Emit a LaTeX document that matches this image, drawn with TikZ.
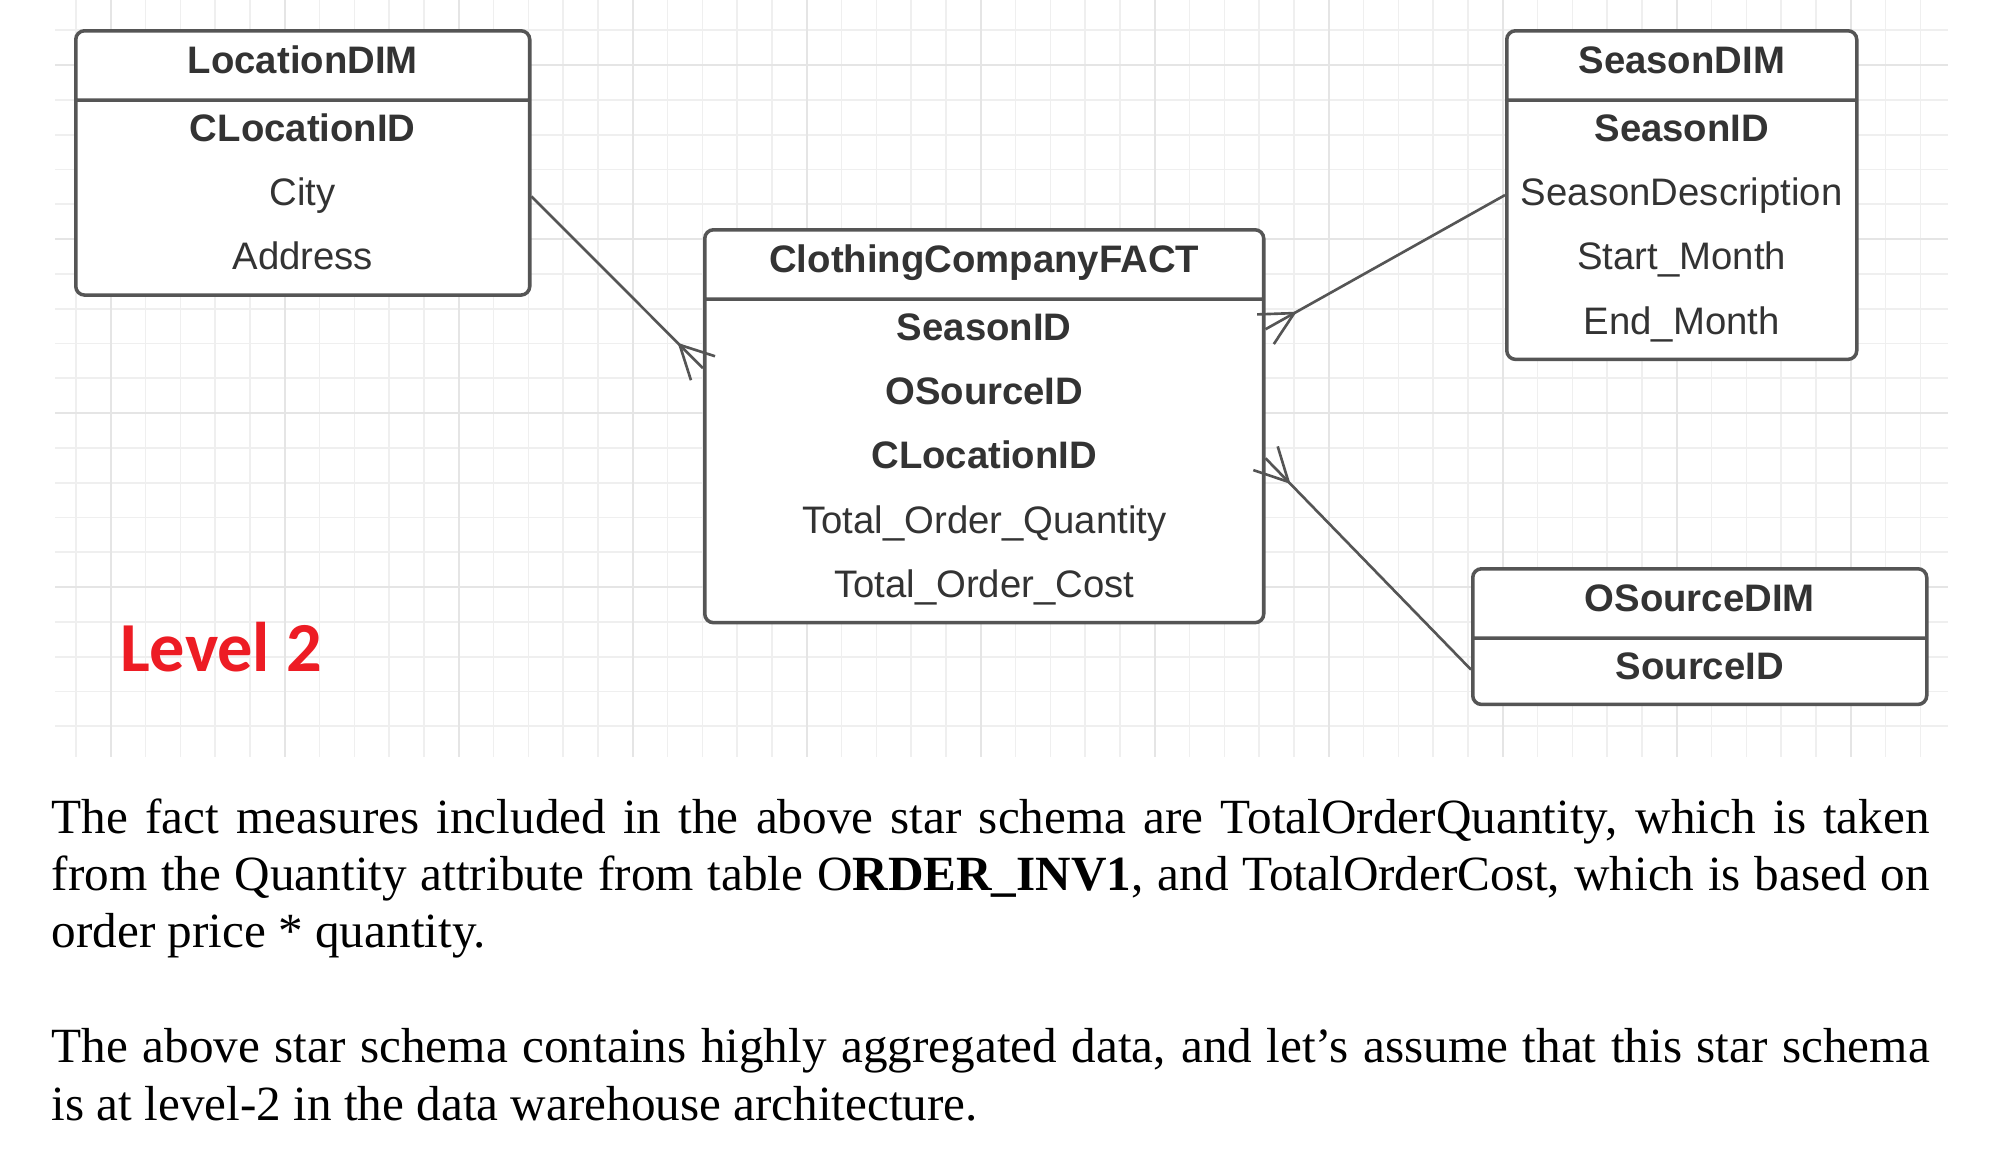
\documentclass[tikz,border=0pt]{standalone}
\usepackage{fontspec}
\setmainfont{Liberation Serif}
\newfontfamily\boxfont{Liberation Sans}
\newfontfamily\levelfont{Carlito}
\usepackage{xcolor}
\usepackage{tikz}
\usetikzlibrary{shapes.multipart, positioning, calc, backgrounds}

\definecolor{boxline}{HTML}{555555}
\definecolor{boxtext}{HTML}{333333}
\definecolor{gridgray}{HTML}{EFEFEF}
\definecolor{gridmajor}{HTML}{E5E5E5}
\definecolor{levelred}{HTML}{ED1C24}

\hyphenpenalty=10000
\newcommand{\hs}{\rule[-6.6pt]{0pt}{17.8pt}}
\newcommand{\rs}{\rule[-6.2pt]{0pt}{17.0pt}}
%% crow's foot at the entity end #1, line coming from #2
\newcommand{\crowfoot}[2]{%
  \draw[rel] ($(#1)!1.7mm!90:(#2)$) -- ($(#1)!3.3mm!(#2)$) -- ($(#1)!1.7mm!-90:(#2)$);}

\begin{document}
\begin{tikzpicture}[
    x=0.1mm, y=-0.1mm,
    every node/.style={font=\boxfont\fontsize{10.9}{18.3}\selectfont, text=boxtext},
    entity/.style={rectangle split, rectangle split parts=2, draw=boxline,
                   line width=1pt, fill=white, rounded corners=2.5pt, align=center,
                   inner xsep=2pt, inner ysep=0.45pt, anchor=north west},
    rel/.style={draw=boxline, line width=0.75pt},
    gridline/.style={draw=gridgray, line width=0.5pt},
    gridbold/.style={draw=gridmajor, line width=0.5pt},
    para/.style={font=\rmfamily\fontsize{14}{16.3}\selectfont, text=black,
                 text width=187.8mm, align=justify, inner sep=0pt, anchor=north west},
]
\useasboundingbox (0,0) rectangle (2000,1161);

%% --- Grid background ---
\begin{scope}[on background layer]
  \fill[white] (0,0) rectangle (2000,1161);
  \begin{scope}
    \clip (55,0) rectangle (1948,757);
    \foreach \k in {0,...,54}
      \draw[gridline] ({41.2+34.8*\k},0) -- ({41.2+34.8*\k},757);
    \foreach \k in {0,...,20}
      \draw[gridline] (55,{30.3+34.8*\k}) -- (1948,{30.3+34.8*\k});
    \foreach \k in {2,7,...,52}
      \draw[gridbold] ({41.2+34.8*\k},0) -- ({41.2+34.8*\k},757);
    \foreach \k in {1,6,...,16}
      \draw[gridbold] (55,{30.3+34.8*\k}) -- (1948,{30.3+34.8*\k});
  \end{scope}
\end{scope}

%% --- Tables ---
\node[entity, minimum width=45.4mm] (loc) at (74,29)
  {\hs\textbf{LocationDIM}\nodepart{two}\rs\textbf{CLocationID}\\\rs City\\\rs Address};

\node[entity, minimum width=55.9mm] (fact) at (703,228)
  {\hs\textbf{ClothingCompanyFACT}\nodepart{two}\rs\textbf{SeasonID}\\\rs\textbf{OSourceID}\\
   \rs\textbf{CLocationID}\\\rs Total\_Order\_Quantity\\\rs Total\_Order\_Cost};

\node[entity, minimum width=35mm] (season) at (1505,29)
  {\hs\textbf{SeasonDIM}\nodepart{two}\rs\textbf{SeasonID}\\\rs SeasonDescription\\
   \rs Start\_Month\\\rs End\_Month};

\node[entity, minimum width=45.4mm] (osrc) at (1471,567)
  {\hs\textbf{OSourceDIM}\nodepart{two}\rs\textbf{SourceID}};

%% --- Level label ---
\node[font=\levelfont\bfseries\fontsize{20}{24}\selectfont, text=levelred] (lvl) at (221,647) {Level 2};

%% --- Relationships (many side at the fact table) ---
\coordinate (locR)   at ([yshift=-3.35mm]loc.east);
\coordinate (factL)  at ([yshift=5.8mm]fact.west);
\coordinate (factRa) at ([yshift=9.7mm]fact.east);
\coordinate (factRb) at ([yshift=-3.2mm]fact.east);
\coordinate (seasL)  at (season.west);
\coordinate (osrcL)  at ([yshift=-3.3mm]osrc.west);

\draw[rel] (locR) -- (factL);
\crowfoot{factL}{locR}
\draw[rel] (seasL) -- (factRa);
\crowfoot{factRa}{seasL}
\draw[rel] (osrcL) -- (factRb);
\crowfoot{factRb}{osrcL}

%% --- Text below ---
\node[para] (txt1) at (51,798)
  {The fact measures included in the above star schema are TotalOrderQuantity, which is taken\linebreak
   from the Quantity attribute from table O\textbf{RDER\_INV1}, and TotalOrderCost, which is based on\linebreak
   order price * quantity.};
\node[para] (txt2) at (51,1028)
  {The above star schema contains highly aggregated data, and let’s assume that this star schema\linebreak
   is at level-2 in the data warehouse architecture.};

\end{tikzpicture}
\end{document}
